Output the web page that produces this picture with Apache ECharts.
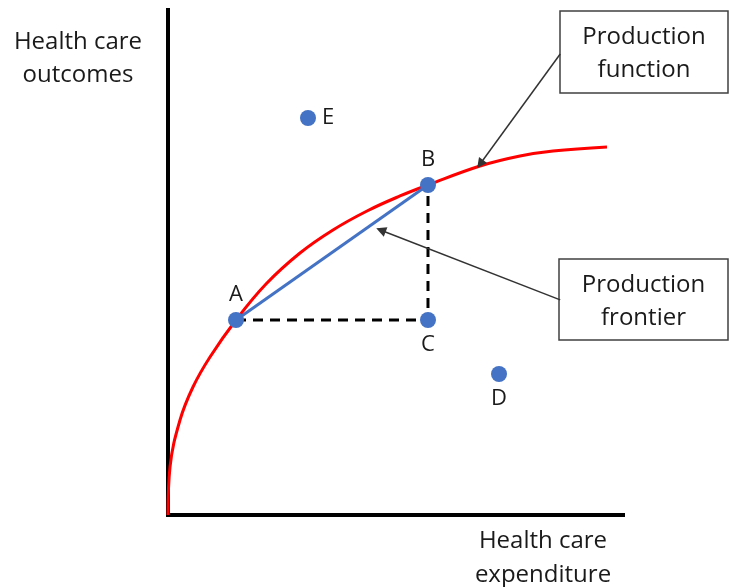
<!DOCTYPE html>
<html>
<head>
<meta charset="utf-8">
<script src="https://cdn.jsdelivr.net/npm/echarts@6/dist/echarts.min.js"></script>
<style>
  html, body { margin: 0; padding: 0; background: #fff; }
  #chart { width: 729px; height: 587px; }
</style>
</head>
<body>
<div id="chart"></div>
<script>
// curve (spending, outcome), 0..100 scale
const curveX = [0, 0.44, 2.64, 5.49, 9.23, 14.95, 21.54, 29.01, 36.26, 43.74, 50.99, 57.14, 68.57, 77.36, 84.62, 96.48];
const curveY = [0, 9.5, 18.81, 25.35, 31.29, 38.61, 45.74, 51.88, 56.44, 60.2, 63.17, 65.35, 69.11, 71.09, 72.08, 72.87];

// labelled points
const pointNames = ['A', 'B', 'C', 'D', 'E'];
const pointX = [14.95, 57.14, 57.14, 72.75, 30.77];
const pointY = [38.61, 65.35, 38.61, 27.92, 78.61];
const pointLabelPos = ['top', 'top', 'bottom', 'bottom', 'right'];

// arrows: from the text box to the line it names
const arrowFrom = [[86.2, 91.3], [86.2, 42.6]];
const arrowTo = [[68.6, 69.5], [46.8, 56.4]];

const yTitle = 'Health care\noutcomes';
const xTitle = 'Health care\nexpenditure';
const boxTexts = ['Production\nfunction', 'Production\nfrontier'];

const FONT = '"Open Sans", sans-serif';
const TEXT = '#1a1a1a';
const ptIdx = name => pointNames.indexOf(name);
const pt = name => [pointX[ptIdx(name)], pointY[ptIdx(name)]];

const chart = echarts.init(document.getElementById('chart'));

const boxes = [
  { x: 560, y: 11, w: 168, h: 82 },
  { x: 559, y: 259, w: 169, h: 81 }
];

chart.setOption({
  backgroundColor: '#fff',
  animation: false,
  grid: { left: 168, right: 106, top: 10, bottom: 72 },
  xAxis: {
    type: 'value', min: 0, max: 100,
    axisLine: { show: true, lineStyle: { color: '#000', width: 4, cap: 'square' } },
    axisTick: { show: false }, axisLabel: { show: false }, splitLine: { show: false }
  },
  yAxis: {
    type: 'value', min: 0, max: 100,
    axisLine: { show: true, lineStyle: { color: '#000', width: 4, cap: 'square' } },
    axisTick: { show: false }, axisLabel: { show: false }, splitLine: { show: false }
  },
  graphic: [
    {
      type: 'text', x: 78, y: 26,
      style: { text: yTitle, font: '24px ' + FONT, fill: TEXT, align: 'center', lineHeight: 33 }
    },
    {
      type: 'text', x: 543, y: 524,
      style: { text: xTitle, font: '24px ' + FONT, fill: TEXT, align: 'center', lineHeight: 34 }
    },
    ...boxes.map((b, i) => ({
      type: 'group',
      children: [
        {
          type: 'rect',
          shape: { x: b.x, y: b.y, width: b.w, height: b.h },
          style: { fill: '#fff', stroke: '#404040', lineWidth: 1.5 }
        },
        {
          type: 'text',
          x: b.x + b.w / 2, y: b.y + 10,
          style: { text: boxTexts[i], font: '24px ' + FONT, fill: TEXT, align: 'center', lineHeight: 33 }
        }
      ]
    }))
  ],
  series: [
    {
      name: 'function',
      type: 'line',
      smooth: 0.4,
      showSymbol: false,
      lineStyle: { color: '#ff0000', width: 3 },
      data: curveX.map((x, i) => [x, curveY[i]]),
      z: 2
    },
    {
      name: 'dashes',
      type: 'line',
      showSymbol: false,
      lineStyle: { color: '#000', width: 3, type: [10, 7] },
      data: [pt('A'), pt('C'), pt('B')],
      z: 2
    },
    {
      name: 'frontier',
      type: 'line',
      showSymbol: false,
      lineStyle: { color: '#4472c4', width: 3 },
      data: [pt('A'), pt('B')],
      z: 3
    },
    {
      name: 'arrows',
      type: 'lines',
      coordinateSystem: 'cartesian2d',
      symbol: ['none', 'triangle'],
      symbolSize: 10,
      lineStyle: { color: '#333', width: 1.5, opacity: 1 },
      data: arrowFrom.map((f, i) => ({ coords: [f, arrowTo[i]] })),
      z: 4
    },
    {
      name: 'points',
      type: 'scatter',
      symbolSize: 16,
      itemStyle: { color: '#4472c4', opacity: 1 },
      data: pointNames.map((n, i) => ({
        value: [pointX[i], pointY[i]],
        label: { position: pointLabelPos[i] }
      })),
      label: {
        show: true,
        formatter: p => pointNames[p.dataIndex],
        fontSize: 22,
        fontFamily: FONT,
        color: TEXT,
        distance: 6
      },
      z: 5
    }
  ]
});
</script>
</body>
</html>
